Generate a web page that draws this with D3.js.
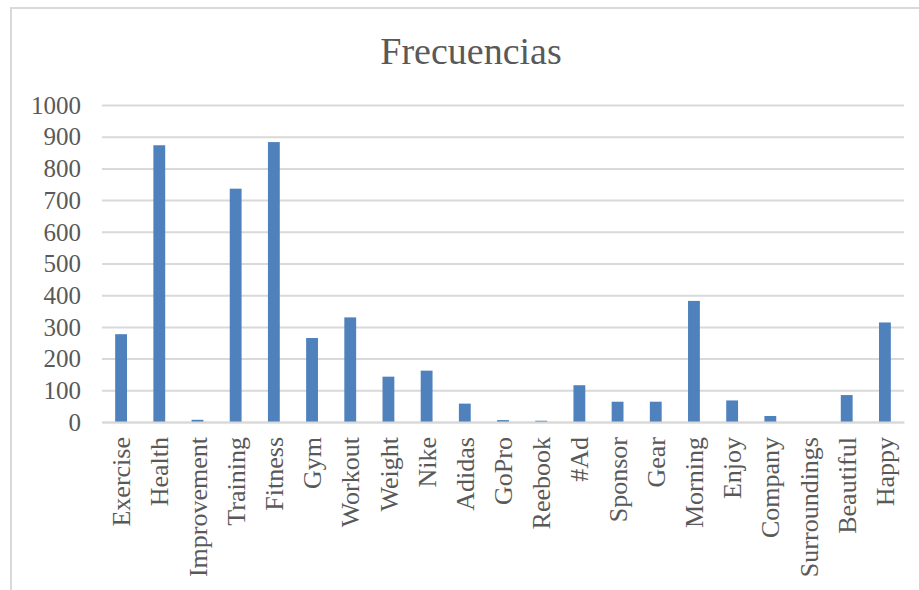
<!DOCTYPE html>
<html>
<head>
<meta charset="utf-8">
<script src="https://cdn.jsdelivr.net/npm/d3@7"></script>
<style>
body { margin: 0; background: #fff; }
svg text { font-family: 'Liberation Serif', 'DejaVu Serif', serif; fill: #595959; }
</style>
</head>
<body>
<div id="chart"></div>
<script>
const categories = ['Exercise','Health','Improvement','Training','Fitness','Gym','Workout','Weight','Nike','Adidas',
  'GoPro','Reebook','#Ad','Sponsor','Gear','Morning','Enjoy','Company','Surroundings','Beautiful','Happy'];
const values = [277, 873, 7, 736, 883, 265, 330, 143, 162, 58,
  6, 4, 116, 64, 64, 382, 68, 19, 0, 85, 314];
const yTicks = [0,100,200,300,400,500,600,700,800,900,1000];
const title = 'Frecuencias';

const width = 919, height = 590;
const m = {left: 102, right: 15, top: 105, bottom: 168};

const svg = d3.select('#chart').append('svg')
  .attr('width', width).attr('height', height);

// chart frame
svg.append('path')
  .attr('d', 'M11,' + height + 'V8H' + width)
  .attr('fill', 'none').attr('stroke', '#d9d9d9').attr('stroke-width', 2);

svg.append('text')
  .attr('x', 471).attr('y', 64)
  .attr('text-anchor', 'middle')
  .style('font-size', '38px')
  .text(title);

const x = d3.scaleBand().domain(categories)
  .range([m.left, width - m.right]).paddingInner(0.69).paddingOuter(0.345);
const y = d3.scaleLinear().domain([0, 1000]).range([height - m.bottom, m.top]);

// gridlines + y labels
const ya = svg.append('g')
  .attr('transform', 'translate(' + m.left + ',0)')
  .call(d3.axisLeft(y).tickValues(yTicks).tickFormat(d3.format('d'))
    .tickSize(-(width - m.right - m.left)).tickPadding(21));
ya.select('.domain').remove();
ya.selectAll('line').attr('stroke', '#d9d9d9').attr('stroke-width', 2);
ya.selectAll('text').style('font-size', '25px').attr('fill', '#595959').attr('dy', '0.33em');

svg.append('g').selectAll('rect').data(values).enter().append('rect')
  .attr('x', (d, i) => x(categories[i]))
  .attr('y', d => y(d))
  .attr('width', x.bandwidth())
  .attr('height', d => y(0) - y(d))
  .attr('fill', '#4f81bd');

// x labels
const xa = svg.append('g')
  .attr('transform', 'translate(0,' + y(0) + ')')
  .call(d3.axisBottom(x).tickSize(0).tickPadding(0));
xa.select('.domain').attr('stroke', '#d9d9d9').attr('stroke-width', 2);
xa.selectAll('text')
  .style('font-size', '26px').attr('fill', '#595959')
  .attr('text-anchor', 'end')
  .attr('transform', 'translate(0,15) rotate(-90)')
  .attr('x', 0).attr('y', 0).attr('dy', '0.35em');
</script>
</body>
</html>
